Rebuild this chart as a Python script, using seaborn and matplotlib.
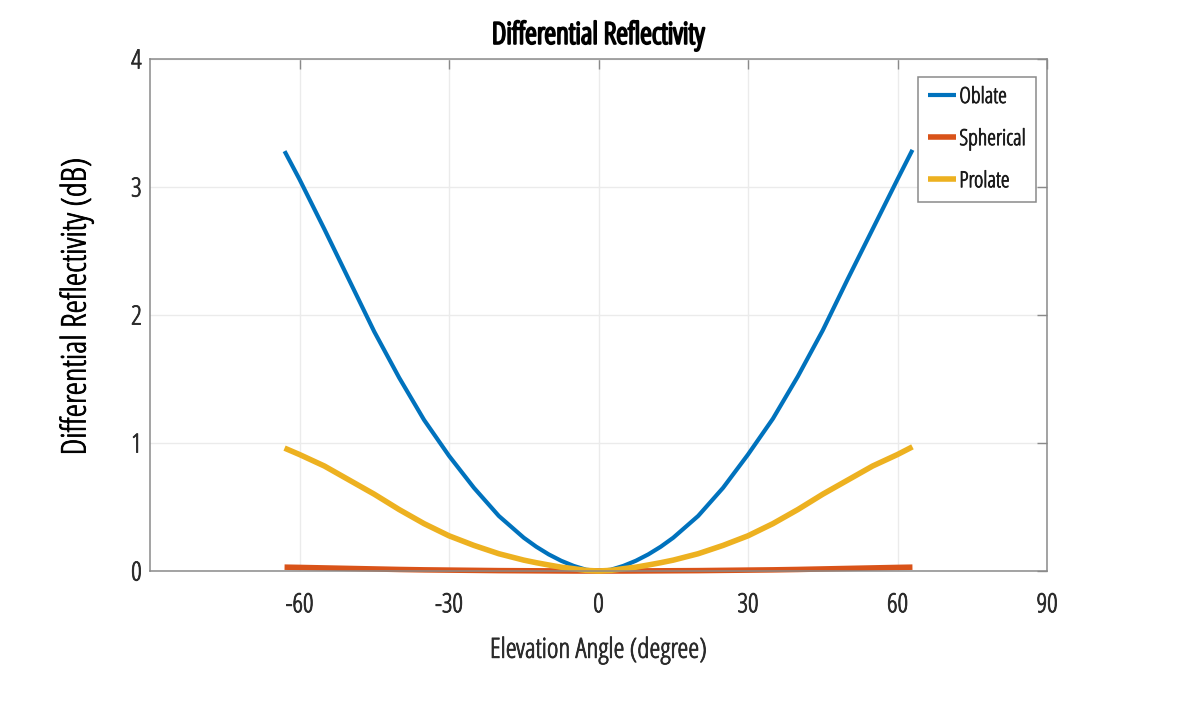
import numpy as np
import pandas as pd
import seaborn as sns
import matplotlib
matplotlib.use("Agg")
import matplotlib.pyplot as plt
import matplotlib.patheffects as pe

# values (elevation angle in degrees, ZDR in dB)
angle = [-63, -60, -55, -50, -45, -40, -35, -30, -25, -20, -15, -12.5, -10, -7.5, -5, -2.5, 0,
         2.5, 5, 7.5, 10, 12.5, 15, 20, 25, 30, 35, 40, 45, 50, 55, 60, 63]
oblate = [3.28, 3.06, 2.67, 2.27, 1.87, 1.51, 1.18, 0.90, 0.65, 0.43, 0.26, 0.19, 0.13, 0.08, 0.04, 0.01, 0.0,
          0.01, 0.04, 0.08, 0.13, 0.19, 0.26, 0.43, 0.65, 0.91, 1.19, 1.52, 1.88, 2.28, 2.67, 3.06, 3.29]
spherical = [0.030, 0.028, 0.024, 0.020, 0.016, 0.012, 0.009, 0.007, 0.005, 0.003, 0.002, 0.0015, 0.001, 0.0005, 0.0, 0.0, 0.0,
             0.0, 0.0, 0.0005, 0.001, 0.0015, 0.002, 0.003, 0.005, 0.007, 0.009, 0.012, 0.016, 0.020, 0.024, 0.028, 0.030]
prolate = [0.96, 0.91, 0.82, 0.71, 0.60, 0.48, 0.37, 0.275, 0.20, 0.135, 0.085, 0.065, 0.047, 0.03, 0.018, 0.005, 0.0,
           0.005, 0.018, 0.03, 0.047, 0.065, 0.085, 0.135, 0.20, 0.275, 0.37, 0.48, 0.60, 0.71, 0.82, 0.91, 0.97]

series_names = ["Oblate", "Spherical", "Prolate"]
colors = {"Oblate": "#0072BD", "Spherical": "#D95319", "Prolate": "#EDB120"}
widths = {"Oblate": 3.0, "Spherical": 4.0, "Prolate": 4.0}

xticks = [-60, -30, 0, 30, 60, 90]
yticks = [0, 1, 2, 3, 4]

df = pd.DataFrame({"angle": angle, "Oblate": oblate, "Spherical": spherical, "Prolate": prolate})
long_df = df.melt(id_vars="angle", var_name="shape", value_name="zdr")

sns.set_theme(style="whitegrid")
# narrow face, like the squeezed MATLAB text of the original
plt.rcParams["font.family"] = ["Open Sans", "Liberation Sans", "DejaVu Sans"]
plt.rcParams["font.stretch"] = "condensed"
plt.rcParams["axes.unicode_minus"] = False


def heavier(width, color):
    # the condensed face is light; a thin stroke gives it the weight of the original
    return [pe.withStroke(linewidth=width, foreground=color)]


fig = plt.figure(figsize=(11.82, 7.09), dpi=100)
ax = fig.add_axes([150 / 1182, 1 - 571 / 709, 897 / 1182, 512 / 709])

for name in series_names:
    sub = long_df[long_df["shape"] == name]
    sns.lineplot(data=sub, x="angle", y="zdr", ax=ax, color=colors[name],
                 linewidth=widths[name], label=name, clip_on=False, solid_capstyle="butt")

ax.set_xlim(-90, 90)
ax.set_ylim(0, 4)
ax.set_xticks(xticks)
ax.set_yticks(yticks)
ax.grid(True, color="#ebebeb", linewidth=1.0)
for sp in ax.spines.values():
    sp.set_color("#8a8a8a")
    sp.set_linewidth(1.1)
ax.tick_params(axis="both", direction="in", length=7, width=1.0, color="#8a8a8a",
               labelsize=19, labelcolor="#2a2a2a")
ax.tick_params(axis="x", pad=16)
ax.tick_params(axis="y", pad=6)
ax.tick_params(top=True, right=True, labeltop=False, labelright=False)
for lbl in ax.get_xticklabels() + ax.get_yticklabels():
    lbl.set_path_effects(heavier(0.6, "#2a2a2a"))

ax.set_title("Differential Reflectivity", fontsize=21.5, pad=11, color="black",
             path_effects=heavier(1.6, "black"))
ax.set_xlabel("Elevation Angle (degree)", fontsize=20, color="#2a2a2a", labelpad=13,
              path_effects=heavier(0.6, "#2a2a2a"))
ax.set_ylabel("Differential Reflectivity (dB)", fontsize=24.5, color="black", labelpad=27, y=0.516,
              path_effects=heavier(0.6, "black"))

leg = ax.legend(loc="upper right", bbox_to_anchor=(0.9877, 0.9648), borderaxespad=0,
                fontsize=16, frameon=True, fancybox=False, framealpha=1,
                handlelength=1.25, handletextpad=0.15,
                labelspacing=0.95, borderpad=0.45)
leg.get_frame().set_edgecolor("#8a8a8a")
leg.get_frame().set_linewidth(1.1)
for t in leg.get_texts():
    t.set_color("#1a1a1a")
    t.set_path_effects(heavier(0.6, "#1a1a1a"))

fig.savefig("out.png", dpi=100)
